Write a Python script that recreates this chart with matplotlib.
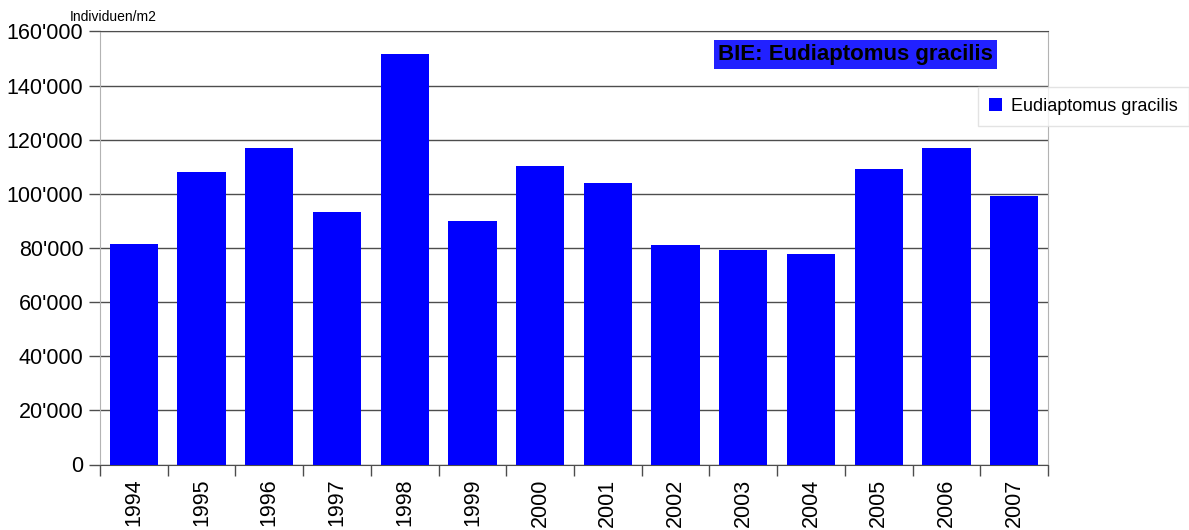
import matplotlib
matplotlib.use("Agg")
import matplotlib.pyplot as plt
import numpy as np
from matplotlib.ticker import FuncFormatter, FixedLocator

plt.rcParams["font.family"] = ["Liberation Sans", "DejaVu Sans"]

years = ["1994", "1995", "1996", "1997", "1998", "1999", "2000",
         "2001", "2002", "2003", "2004", "2005", "2006", "2007"]
individuals = [81500, 108100, 117100, 93300, 151800, 90000, 110300,
               104200, 81200, 79100, 77900, 109300, 116900, 99300]
series_name = "Eudiaptomus gracilis"
title = "BIE: Eudiaptomus gracilis"
y_unit = "Individuen/m2"


def swiss_thousands(v, pos):
    return f"{int(v):,}".replace(",", "'")


fig = plt.figure(figsize=(11.89, 5.30), dpi=100)
ax = fig.add_axes([100 / 1189, 1 - 464.5 / 530, 948 / 1189, 433 / 530])

x = np.arange(len(years))
ax.bar(x, individuals, width=0.715, color="#0000ff", zorder=3, label=series_name)

ax.set_xlim(-0.5, len(years) - 0.5)
ax.set_ylim(0, 160000)
ax.set_yticks(np.arange(0, 160001, 20000))
ax.yaxis.set_major_formatter(FuncFormatter(swiss_thousands))
ax.yaxis.grid(True, color="#4d4d4d", linewidth=1.0, zorder=0)
ax.set_axisbelow(True)

ax.set_xticks(x, labels=years, rotation=90)
ax.xaxis.set_minor_locator(FixedLocator(np.arange(-0.5, len(years), 1.0)))
ax.tick_params(axis="x", which="major", length=0, pad=10, labelsize=15.5)
ax.tick_params(axis="x", which="minor", length=8, width=1, color="#4d4d4d")
ax.tick_params(axis="y", length=8, width=1, color="#4d4d4d", pad=4, labelsize=15.5)

for side in ["left", "right"]:
    ax.spines[side].set_color("#b3b3b3")
ax.spines["bottom"].set_color("#4d4d4d")
ax.spines["top"].set_color("#4d4d4d")

fig.text(70 / 1189, 1 - 21 / 530, y_unit, fontsize=10, ha="left", va="baseline")

fig.text(855.5 / 1189, 1 - 54.5 / 530, title, fontsize=16, fontweight="bold",
         ha="center", va="center", color="black",
         bbox=dict(boxstyle="square,pad=0.18", facecolor="#2121ff", edgecolor="none"))

leg = ax.legend(loc="upper left", bbox_to_anchor=(978 / 1189, 1 - 87 / 530),
                bbox_transform=fig.transFigure, fontsize=13, frameon=True,
                fancybox=False, borderaxespad=0, borderpad=0.6,
                handlelength=0.75, handleheight=0.75, handletextpad=0.5)
leg.get_frame().set_edgecolor("#dddddd")
leg.get_frame().set_linewidth(1.0)

fig.savefig("out.png", dpi=100)
